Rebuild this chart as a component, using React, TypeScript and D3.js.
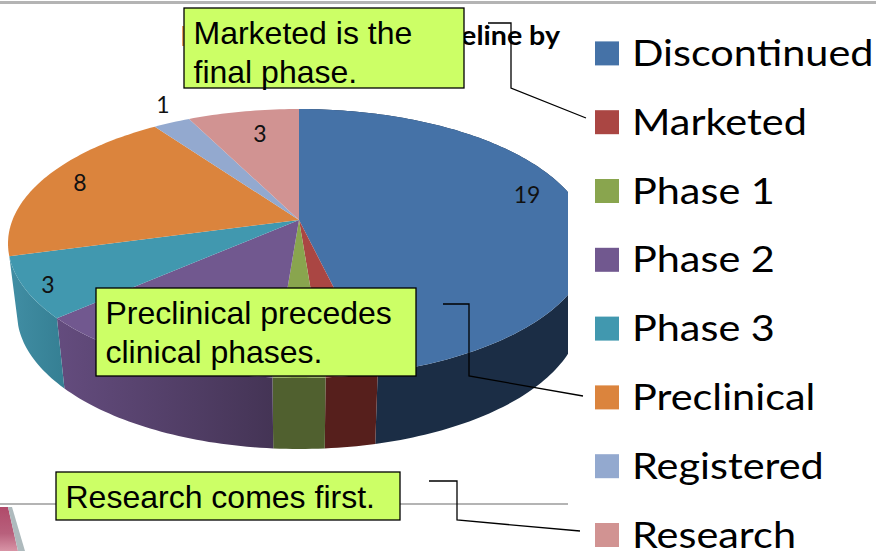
import React from "react";
import * as d3 from "d3";

const categories = ["Discontinued", "Marketed", "Phase 1", "Phase 2", "Phase 3", "Preclinical", "Registered", "Research"];
const values = [19, 1, 1, 5, 3, 8, 1, 3];
const topColors = ["#4572a7", "#aa4643", "#89a54e", "#71588f", "#4198af", "#db843d", "#93a9cf", "#d19392"];
const wallLight = ["#1b2d45", "#561f1c", "#50602f", "#644c7e", "#418ea4", "#a0602c", "#6d7f9c", "#9c6d6c"];
const wallDark = ["#1b2d45", "#561f1c", "#50602f", "#443455", "#357f93", "#a0602c", "#6d7f9c", "#9c6d6c"];
// Labels shown on slices (the two thin slices carry none visible)
const sliceLabels = [
  { text: "19", x: 527, y: 195 },
  { text: "3", x: 48, y: 285 },
  { text: "8", x: 80, y: 183 },
  { text: "1", x: 163, y: 105 },
  { text: "3", x: 260, y: 134 },
];
const calloutBoxes = [
  { x: 184, y: 8, w: 280, h: 80, lines: ["Marketed is the", "final phase."] },
  { x: 96, y: 288, w: 320, h: 88, lines: ["Preclinical precedes", "clinical phases."] },
  { x: 56, y: 472, w: 344, h: 48, lines: ["Research comes first."] },
];
const connectors: [number, number][][] = [
  [[488, 23], [511, 23], [511, 88], [586, 118]],
  [[443, 304], [469, 304], [469, 376], [583, 396]],
  [[429, 481], [457, 481], [457, 520], [580, 531]],
];

const CX = 299;
const top = { rx: 291, cy: 243.5, ry: 134.5 };
const bot = { rx: 282, cy: 313, ry: 136 };
const TILT = -0.175;

function project(a: number, e: { rx: number; cy: number; ry: number }): [number, number] {
  const sx = Math.sin(a);
  const sy = -Math.cos(a);
  const k = 1 + TILT * sy;
  return [CX + e.rx * (sx * Math.sqrt(1 - TILT * TILT)) / k, e.cy + (e.ry * (sy + TILT)) / k];
}

function arcPts(a0: number, a1: number, e: typeof top) {
  const n = Math.max(2, Math.ceil((a1 - a0) / 0.02));
  return d3.range(n + 1).map((i) => project(a0 + ((a1 - a0) * i) / n, e));
}

const line = d3.line();
const legendY = d3.scaleLinear().domain([0, 7]).range([53.4, 535]);

export default function App() {
  const arcs = d3.pie<number>().sort(null).value((d) => d)(values);
  const walls = arcs.filter((d) => (d.startAngle + d.endAngle) / 2 < (3 * Math.PI) / 2);
  const center: [number, number] = [CX, top.cy + top.ry * TILT];
  return (
    <svg width={876} height={551} style={{ position: "absolute", left: 0, top: 0, background: "#fff" }}>
      <defs>
        <clipPath id="plot"><rect x={0} y={0} width={568} height={551} /></clipPath>
        {[3, 4].map((i) => (
          <linearGradient key={i} id={`wall${i}`} x1="0" x2="1" y1="0" y2="0">
            <stop offset="0" stopColor={wallLight[i]} />
            <stop offset="1" stopColor={wallDark[i]} />
          </linearGradient>
        ))}
        <linearGradient id="photo" x1="0" x2="0" y1="0" y2="1">
          <stop offset="0" stopColor="#b04a6a" />
          <stop offset="0.6" stopColor="#b8607c" />
          <stop offset="1" stopColor="#d894a6" />
        </linearGradient>
      </defs>
      <rect x={0} y={1} width={876} height={3} fill="#b4b4b4" />
      <rect x={0} y={503} width={568} height={2} fill="#b4b4b4" />
      <path d="M0,507 L8,507 L18,551 L0,551 Z" fill="url(#photo)" />
      <path d="M8,507 L12,507 L25,551 L18,551 Z" fill="#aebabd" />
      <rect x={182} y={26} width={3} height={20} fill="#e8a060" />
      <text
        transform="translate(560,45) scale(1.1,1)"
        textAnchor="end"
        fontFamily="Lato, sans-serif"
        fontWeight={700}
        fontSize={26}
        fill="#000"
      >
        Pipeline by
      </text>
      <g clipPath="url(#plot)">
        {walls.map((d) => {
          const t = arcPts(d.startAngle, d.endAngle, top);
          const b = arcPts(d.startAngle, d.endAngle, bot).reverse();
          return (
            <path
              key={d.index}
              d={line([...t, ...b]) + "Z"}
              fill={d.index === 3 || d.index === 4 ? `url(#wall${d.index})` : wallDark[d.index]}
            />
          );
        })}
        {arcs.map((d) => (
          <path
            key={d.index}
            d={line([center, ...arcPts(d.startAngle, d.endAngle, top)]) + "Z"}
            fill={topColors[d.index]}
          />
        ))}
        {sliceLabels.map((l, i) => (
          <text key={i} x={l.x} y={l.y} dy="0.35em" textAnchor="middle" fontFamily="Lato, sans-serif" fontSize={23} fill="#111">{l.text}</text>
        ))}
      </g>
      {categories.map((c, i) => (
        <g key={c}>
          <rect x={595} y={legendY(i) - 12} width={24} height={24} fill={topColors[i]} />
          <text
            transform={`translate(632,${legendY(i) + 12.5}) scale(1.12,1)`}
            fontFamily="Lato, sans-serif"
            fontSize={37}
            fill="#000"
          >
            {c}
          </text>
        </g>
      ))}
      {connectors.map((p, i) => (
        <path key={i} d={line(p)!} fill="none" stroke="#000" strokeWidth={1.3} />
      ))}
      {calloutBoxes.map((b, i) => (
        <g key={i}>
          <rect x={b.x} y={b.y} width={b.w} height={b.h} fill="#ccff66" stroke="#000" strokeWidth={1.3} />
          {b.lines.map((t, j) => (
            <text key={j} x={b.x + 9.5} y={b.y + 36 + j * 39} fontFamily="Liberation Sans, Arial, sans-serif" fontSize={32} fill="#000">{t}</text>
          ))}
        </g>
      ))}
    </svg>
  );
}
